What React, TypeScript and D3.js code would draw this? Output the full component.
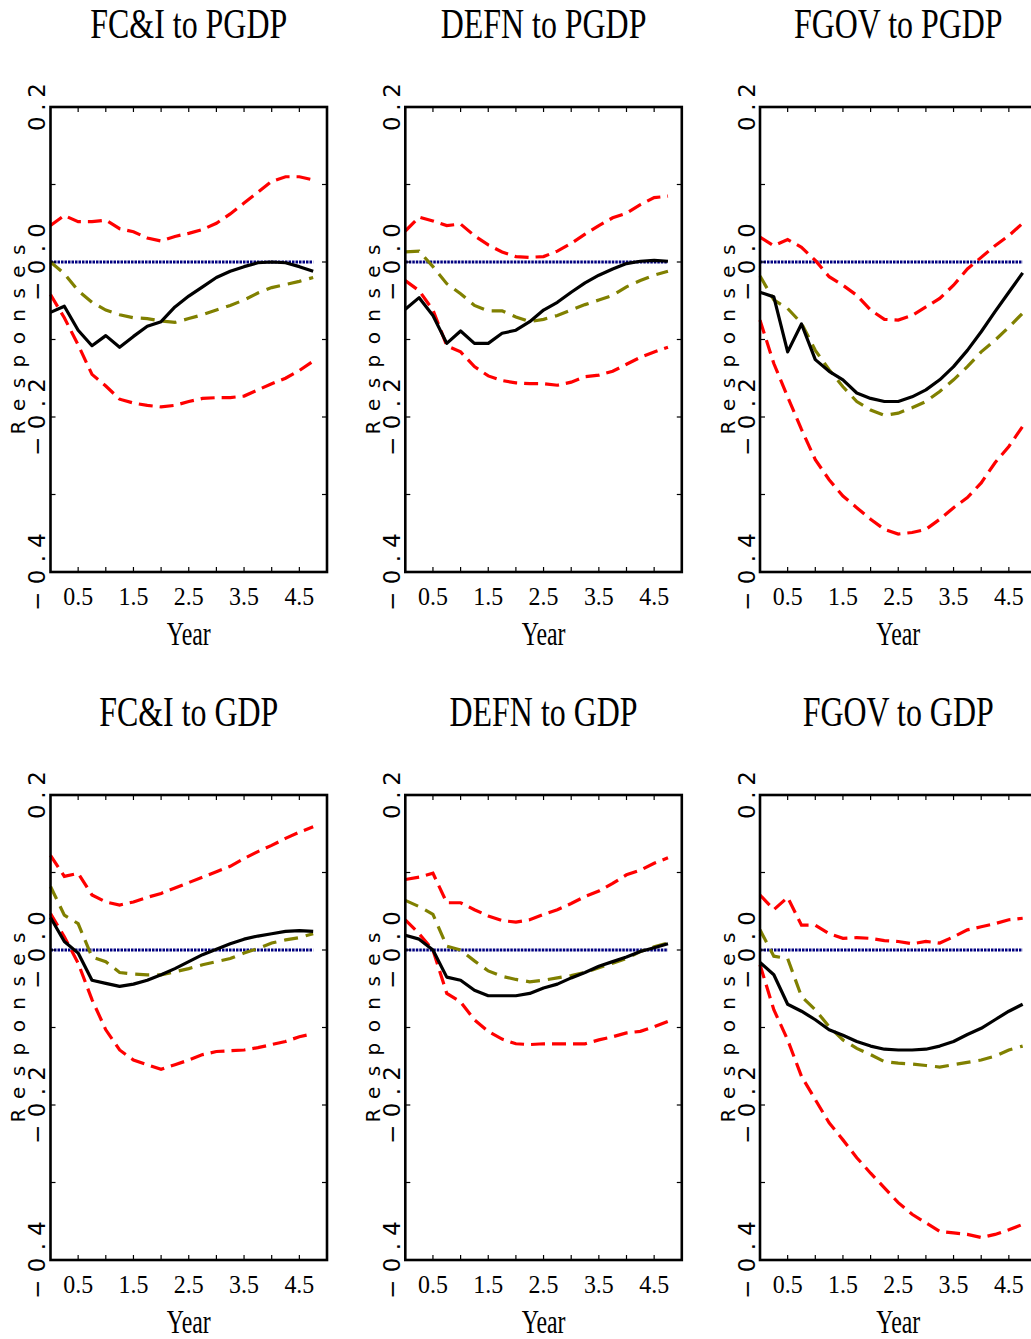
import React from 'react';
import * as d3 from 'd3';

// Horizon in years (quarterly)
const QUARTERS = [0, 0.25, 0.5, 0.75, 1, 1.25, 1.5, 1.75, 2, 2.25, 2.5, 2.75, 3, 3.25, 3.5, 3.75, 4, 4.25, 4.5, 4.75];

const TITLES = ['FC&I to PGDP', 'DEFN to PGDP', 'FGOV to PGDP', 'FC&I to GDP', 'DEFN to GDP', 'FGOV to GDP'];

// Point estimates (black solid)
const ESTIMATE = [
  [-0.065, -0.057, -0.088, -0.108, -0.095, -0.110, -0.096, -0.083, -0.077, -0.058, -0.044, -0.032, -0.020, -0.012, -0.006, -0.001, 0.000, -0.001, -0.006, -0.012],
  [-0.061, -0.046, -0.069, -0.105, -0.089, -0.105, -0.105, -0.092, -0.088, -0.077, -0.062, -0.052, -0.039, -0.027, -0.017, -0.009, -0.002, 0.001, 0.002, 0.001],
  [-0.039, -0.045, -0.116, -0.080, -0.126, -0.141, -0.152, -0.169, -0.176, -0.180, -0.180, -0.174, -0.165, -0.152, -0.135, -0.114, -0.090, -0.064, -0.039, -0.014],
  [0.042, 0.011, -0.004, -0.039, -0.043, -0.047, -0.044, -0.039, -0.032, -0.024, -0.015, -0.006, 0.001, 0.008, 0.014, 0.018, 0.021, 0.024, 0.025, 0.024],
  [0.019, 0.014, 0.000, -0.035, -0.039, -0.052, -0.059, -0.059, -0.059, -0.056, -0.049, -0.044, -0.036, -0.029, -0.021, -0.015, -0.009, -0.002, 0.003, 0.008],
  [-0.016, -0.032, -0.070, -0.079, -0.090, -0.103, -0.110, -0.118, -0.124, -0.128, -0.129, -0.129, -0.128, -0.124, -0.118, -0.109, -0.101, -0.090, -0.079, -0.070],
];

// Median responses (olive dashed)
const MEDIAN = [
  [0.000, -0.015, -0.037, -0.052, -0.062, -0.068, -0.072, -0.073, -0.076, -0.078, -0.073, -0.068, -0.062, -0.056, -0.049, -0.040, -0.033, -0.029, -0.025, -0.020],
  [0.013, 0.014, -0.006, -0.028, -0.041, -0.056, -0.063, -0.063, -0.071, -0.077, -0.074, -0.069, -0.062, -0.055, -0.049, -0.043, -0.032, -0.024, -0.017, -0.012],
  [-0.018, -0.049, -0.060, -0.079, -0.114, -0.139, -0.161, -0.180, -0.191, -0.198, -0.195, -0.188, -0.180, -0.167, -0.152, -0.135, -0.116, -0.101, -0.084, -0.066],
  [0.082, 0.045, 0.034, -0.009, -0.015, -0.029, -0.031, -0.032, -0.032, -0.028, -0.024, -0.019, -0.015, -0.011, -0.004, 0.002, 0.009, 0.013, 0.016, 0.021],
  [0.064, 0.056, 0.046, 0.005, 0.000, -0.014, -0.027, -0.034, -0.038, -0.041, -0.039, -0.036, -0.033, -0.029, -0.023, -0.017, -0.011, -0.002, 0.004, 0.009],
  [0.026, -0.008, -0.011, -0.060, -0.077, -0.099, -0.116, -0.127, -0.135, -0.144, -0.146, -0.147, -0.149, -0.151, -0.148, -0.145, -0.142, -0.137, -0.129, -0.124],
];

// Upper error band (red dashed)
const UPPER = [
  [0.047, 0.060, 0.052, 0.052, 0.054, 0.043, 0.039, 0.031, 0.027, 0.033, 0.037, 0.042, 0.050, 0.062, 0.076, 0.090, 0.104, 0.110, 0.110, 0.106],
  [0.040, 0.058, 0.053, 0.047, 0.049, 0.034, 0.022, 0.013, 0.007, 0.006, 0.007, 0.014, 0.024, 0.036, 0.047, 0.057, 0.063, 0.074, 0.083, 0.085],
  [0.032, 0.021, 0.029, 0.019, 0.002, -0.019, -0.030, -0.043, -0.062, -0.074, -0.075, -0.069, -0.058, -0.047, -0.030, -0.009, 0.006, 0.021, 0.034, 0.050],
  [0.122, 0.095, 0.099, 0.071, 0.062, 0.058, 0.062, 0.068, 0.073, 0.080, 0.087, 0.094, 0.101, 0.108, 0.118, 0.127, 0.135, 0.144, 0.152, 0.159],
  [0.091, 0.094, 0.099, 0.061, 0.061, 0.052, 0.044, 0.038, 0.036, 0.039, 0.046, 0.052, 0.060, 0.069, 0.076, 0.086, 0.097, 0.103, 0.112, 0.119],
  [0.071, 0.052, 0.068, 0.032, 0.032, 0.021, 0.015, 0.016, 0.015, 0.012, 0.011, 0.008, 0.011, 0.009, 0.017, 0.026, 0.030, 0.034, 0.039, 0.041],
];

// Lower error band (red dashed)
const LOWER = [
  [-0.042, -0.072, -0.107, -0.145, -0.160, -0.177, -0.182, -0.185, -0.187, -0.185, -0.180, -0.176, -0.175, -0.175, -0.173, -0.165, -0.157, -0.150, -0.140, -0.128],
  [-0.024, -0.037, -0.062, -0.108, -0.116, -0.135, -0.147, -0.153, -0.156, -0.157, -0.157, -0.159, -0.155, -0.148, -0.146, -0.141, -0.132, -0.123, -0.116, -0.110],
  [-0.075, -0.131, -0.174, -0.216, -0.255, -0.281, -0.302, -0.317, -0.332, -0.345, -0.351, -0.349, -0.345, -0.332, -0.317, -0.304, -0.285, -0.259, -0.238, -0.212],
  [0.047, 0.017, -0.017, -0.064, -0.103, -0.129, -0.142, -0.148, -0.154, -0.148, -0.142, -0.135, -0.131, -0.130, -0.129, -0.126, -0.122, -0.118, -0.112, -0.108],
  [0.039, 0.021, 0.000, -0.056, -0.067, -0.090, -0.105, -0.115, -0.121, -0.122, -0.121, -0.121, -0.121, -0.121, -0.116, -0.112, -0.107, -0.105, -0.099, -0.092],
  [-0.019, -0.077, -0.116, -0.163, -0.193, -0.223, -0.245, -0.268, -0.288, -0.307, -0.326, -0.341, -0.352, -0.363, -0.365, -0.367, -0.371, -0.367, -0.361, -0.354],
];

const ZERO_LINE = [0, 0];
const ZERO_X = [0, 4.75];

const X_TICKS = [0.5, 1, 1.5, 2, 2.5, 3, 3.5, 4, 4.5];
const X_TICK_LABELS = ['0.5', '1.5', '2.5', '3.5', '4.5'];
const X_TICK_LABEL_VALUES = [0.5, 1.5, 2.5, 3.5, 4.5];
const Y_TICKS = [-0.3, -0.2, -0.1, 0, 0.1];
const Y_TICK_LABELS = ['0.2', '\u22120.0', '\u22120.2', '\u22120.4'];
const Y_TICK_LABEL_VALUES = [0.2, 0, -0.2, -0.4];

const COL_LEFT = [50.5, 405.3, 760];
const ROW_TOP = [107, 795];
const PW = 276.5;
const PH = 465;

function Panel({ idx }: { idx: number }) {
  const left = COL_LEFT[idx % 3];
  const top = ROW_TOP[Math.floor(idx / 3)];
  const x = d3.scaleLinear().domain([0, 5]).range([left, left + PW]);
  const y = d3.scaleLinear().domain([-0.4, 0.2]).range([top + PH, top]);
  const line = d3.line<number>().x((_, i) => x(QUARTERS[i])).y((d) => y(d));
  const zline = d3.line<number>().x((_, i) => x(ZERO_X[i])).y((d) => y(d));
  const cx = left + PW / 2;
  const serif = 'Liberation Serif, serif';
  const sans = 'DejaVu Sans, sans-serif';
  return (
    <g>
      <text transform={`translate(${cx},${top - 69}) scale(0.76,1)`} textAnchor="middle" fontFamily={serif} fontSize={42} fill="#000">
        {TITLES[idx]}
      </text>
      <path d={zline(ZERO_LINE) || ''} fill="none" stroke="#000080" strokeWidth={3} strokeDasharray="2.5 1" />
      <path d={line(UPPER[idx]) || ''} fill="none" stroke="#ff0000" strokeWidth={3.2} strokeDasharray="14 7" />
      <path d={line(LOWER[idx]) || ''} fill="none" stroke="#ff0000" strokeWidth={3.2} strokeDasharray="14 7" />
      <path d={line(MEDIAN[idx]) || ''} fill="none" stroke="#808000" strokeWidth={3.2} strokeDasharray="14 8" />
      <path d={line(ESTIMATE[idx]) || ''} fill="none" stroke="#000" strokeWidth={3.2} strokeLinejoin="round" />
      <rect x={left} y={top} width={PW} height={PH} fill="none" stroke="#000" strokeWidth={2.6} />
      {X_TICKS.map((t) => (
        <g key={'xt' + t}>
          <line x1={x(t)} x2={x(t)} y1={top + PH} y2={top + PH - 5} stroke="#000" strokeWidth={1.2} />
          <line x1={x(t)} x2={x(t)} y1={top} y2={top + 5} stroke="#000" strokeWidth={1.2} />
        </g>
      ))}
      {Y_TICKS.map((t) => (
        <g key={'yt' + t}>
          <line x1={left} x2={left + 5} y1={y(t)} y2={y(t)} stroke="#000" strokeWidth={1.2} />
          <line x1={left + PW} x2={left + PW - 5} y1={y(t)} y2={y(t)} stroke="#000" strokeWidth={1.2} />
        </g>
      ))}
      {X_TICK_LABELS.map((lab, i) => (
        <text key={'xl' + lab} transform={`translate(${x(X_TICK_LABEL_VALUES[i])},${top + PH + 33}) scale(0.92,1)`} textAnchor="middle" fontFamily={serif} fontSize={26} fill="#000">
          {lab}
        </text>
      ))}
      {Y_TICK_LABELS.map((lab, i) => (
        <text key={'yl' + lab} transform={`translate(${left - 5.5},${y(Y_TICK_LABEL_VALUES[i])}) rotate(-90)`} textAnchor="middle" fontFamily={sans} fontSize={23} fill="#000" textLength={lab.length > 3 ? 78 : 48} lengthAdjust="spacing">
          {lab}
        </text>
      ))}
      <text transform={`translate(${left - 25.5},${top + PH / 2}) rotate(-90)`} textAnchor="middle" fontFamily={sans} fontSize={20} fill="#000" textLength={190} lengthAdjust="spacing">
        Responses
      </text>
      <text transform={`translate(${cx},${top + PH + 73}) scale(0.7,1)`} textAnchor="middle" fontFamily={serif} fontSize={34} fill="#000">
        Year
      </text>
    </g>
  );
}

export default function App() {
  return (
    <svg width={1031} height={1339} style={{ position: 'absolute', left: 0, top: 0, background: '#fff' }}>
      <rect x={0} y={0} width={1031} height={1339} fill="#fff" />
      {TITLES.map((_, i) => (
        <Panel key={i} idx={i} />
      ))}
    </svg>
  );
}
